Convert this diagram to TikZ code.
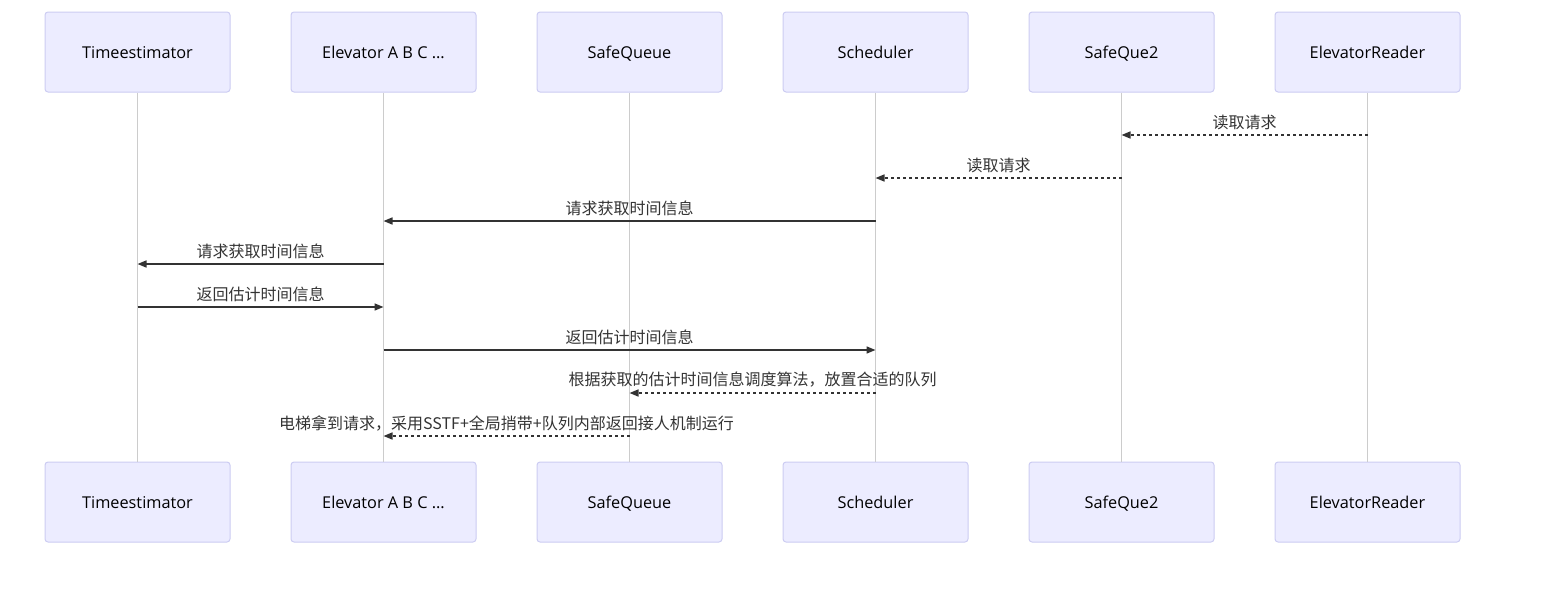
\documentclass[tikz,border=0pt]{standalone}
\usepackage{fontspec}
\setmainfont{Noto Sans CJK SC}
\newfontfamily\actorfont{Open Sans}
\usetikzlibrary{arrows.meta}
\definecolor{actfill}{HTML}{ECECFF}
\definecolor{actdraw}{HTML}{CCCCF2}
\definecolor{lifecol}{HTML}{CCCCCC}
\definecolor{msgcol}{HTML}{333333}
\tikzset{
  actor/.style={draw=actdraw, fill=actfill, line width=1pt, rounded corners=3pt,
    minimum width=185pt, minimum height=80pt, inner sep=0pt,
    text height=13pt, text depth=1pt,
    font=\actorfont\fontsize{16.3}{19}\selectfont, text=black},
  life/.style={draw=lifecol, line width=1pt},
  msgline/.style={draw=msgcol, line width=1.6pt, -{Triangle[length=9pt,width=7pt]}},
  reply/.style={msgline, dash pattern=on 3pt off 3pt},
  msglabel/.style={font=\fontsize{16}{19}\selectfont, text=msgcol, inner sep=0pt},
}
\begin{document}
\begin{tikzpicture}[x=1pt,y=-1pt]
\useasboundingbox (0,0) rectangle (1545,613);
% top actors
\node[actor] (te)  at (137.5,52) {Timeestimator};
\node[actor] (el)  at (383.5,52) {Elevator A B C ...};
\node[actor] (sq)  at (629.5,52) {SafeQueue};
\node[actor] (sc)  at (875.5,52) {Scheduler};
\node[actor] (sq2) at (1121.5,52) {SafeQue2};
\node[actor] (er)  at (1367.5,52) {ElevatorReader};
% bottom actors
\node[actor] (teb)  at (137.5,502) {Timeestimator};
\node[actor] (elb)  at (383.5,502) {Elevator A B C ...};
\node[actor] (sqb)  at (629.5,502) {SafeQueue};
\node[actor] (scb)  at (875.5,502) {Scheduler};
\node[actor] (sq2b) at (1121.5,502) {SafeQue2};
\node[actor] (erb)  at (1367.5,502) {ElevatorReader};
% lifelines
\draw[life] (te.south) -- (teb.north);
\draw[life] (el.south) -- (elb.north);
\draw[life] (sq.south) -- (sqb.north);
\draw[life] (sc.south) -- (scb.north);
\draw[life] (sq2.south) -- (sq2b.north);
\draw[life] (er.south) -- (erb.north);
% message rows
\coordinate (r1) at (0,135);
\coordinate (r2) at (0,178);
\coordinate (r3) at (0,221);
\coordinate (r4) at (0,264);
\coordinate (r5) at (0,307);
\coordinate (r6) at (0,350);
\coordinate (r7) at (0,393);
\coordinate (r8) at (0,436);
% messages
\draw[reply] (er.south |- r1) -- node[msglabel, yshift=13pt] {读取请求} (sq2.south |- r1);
\draw[reply] (sq2.south |- r2) -- node[msglabel, yshift=13pt] {读取请求} (sc.south |- r2);
\draw[msgline] (sc.south |- r3) -- node[msglabel, yshift=13pt] {请求获取时间信息} (el.south |- r3);
\draw[msgline] (el.south |- r4) -- node[msglabel, yshift=13pt] {请求获取时间信息} (te.south |- r4);
\draw[msgline] (te.south |- r5) -- node[msglabel, yshift=13pt] {返回估计时间信息} (el.south |- r5);
\draw[msgline] (el.south |- r6) -- node[msglabel, yshift=13pt] {返回估计时间信息} (sc.south |- r6);
\draw[reply] (sc.south |- r7) -- node[msglabel, yshift=13pt] {根据获取的估计时间信息调度算法，放置合适的队列} (sq.south |- r7);
\draw[reply] (sq.south |- r8) -- node[msglabel, yshift=13pt] {电梯拿到请求，采用SSTF+全局捎带+队列内部返回接人机制运行} (el.south |- r8);
\end{tikzpicture}
\end{document}
